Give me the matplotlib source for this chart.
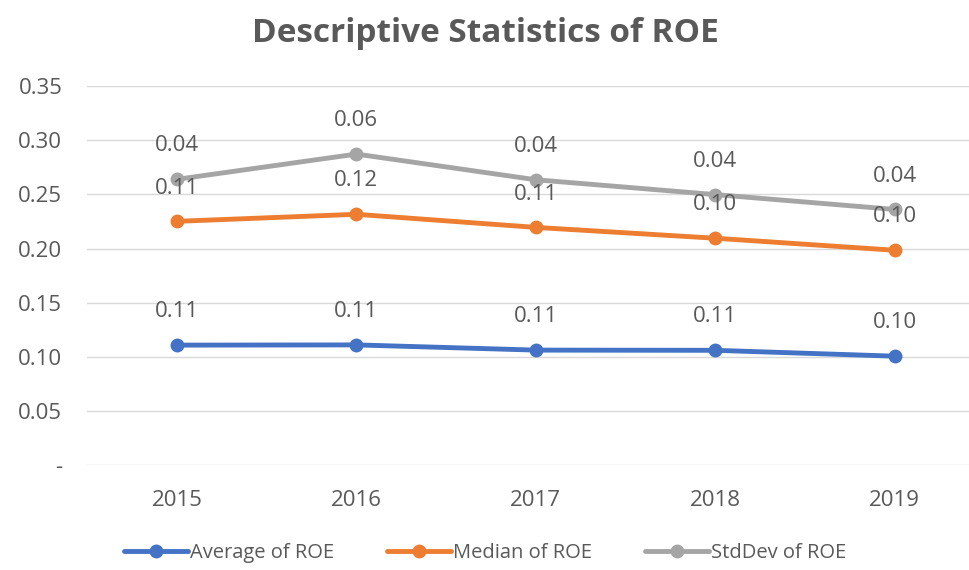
import matplotlib.pyplot as plt
import numpy as np

plt.rcParams['font.family'] = ['Open Sans', 'DejaVu Sans']

years = ["2015", "2016", "2017", "2018", "2019"]
average = [0.1108, 0.1110, 0.1062, 0.1060, 0.1006]
median = [0.1143, 0.1206, 0.1133, 0.1035, 0.0978]
stddev = [0.0388, 0.0556, 0.0440, 0.0403, 0.0377]

series = [("Average of ROE", average, "#4472C4"),
          ("Median of ROE", median, "#ED7D31"),
          ("StdDev of ROE", stddev, "#A5A5A5")]

fig = plt.figure(figsize=(9.7, 5.7), dpi=100)
ax = fig.add_axes([0.09, 0.184, 0.91, 0.665])

x = np.arange(len(years))
base = np.zeros(len(years))
for name, vals, col in series:
    top = base + np.array(vals)
    ax.plot(x, top, '-o', color=col, lw=3.5, markersize=9, label=name,
            solid_capstyle='round')
    for xi, yi, v in zip(x, top, vals):
        ax.annotate("%.2f" % v, (xi, yi), xytext=(0, 24), textcoords='offset points',
                    ha='center', va='center', fontsize=16, color='#595959')
    base = top

ax.set_xlim(-0.5, 4.42)
ax.set_ylim(0, 0.35)
yt = np.arange(0, 0.36, 0.05)
ax.set_yticks(yt)
ax.set_yticklabels(["-" if v < 1e-9 else "%.2f" % v for v in yt])
ax.set_xticks(x)
ax.set_xticklabels(years)
ax.tick_params(length=0, labelsize=16, colors='#595959')
ax.tick_params(axis='y', pad=18)
ax.tick_params(axis='x', pad=18)
ax.grid(axis='y', color='#D9D9D9', lw=1)
ax.set_axisbelow(True)
for s in ax.spines.values():
    s.set_visible(False)

fig.suptitle("Descriptive Statistics of ROE", x=0.5, y=0.97, fontsize=24,
             fontweight='bold', color='#595959')
fig.legend(loc='center', bbox_to_anchor=(0.5, 0.03), ncol=3, frameon=False,
           fontsize=14.5, labelcolor='#595959', handlelength=3.2, columnspacing=2.6,
           handletextpad=0.1)

fig.savefig("out.png", dpi=100)
